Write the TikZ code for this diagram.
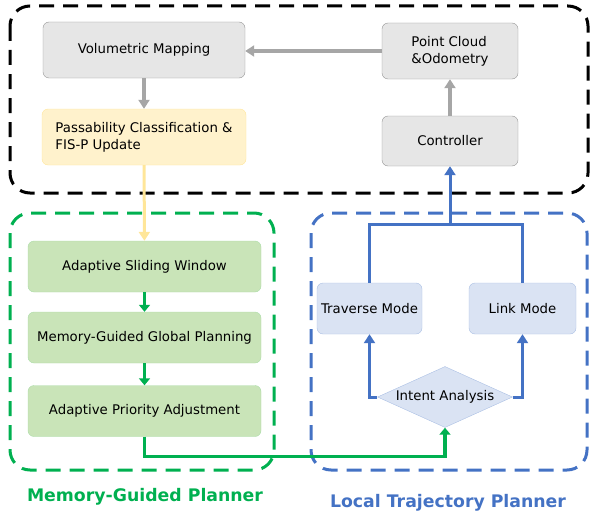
\documentclass[tikz,border=0pt]{standalone}
\usepackage{fontspec}
\setmainfont{DejaVu Sans}
\usetikzlibrary{shapes.geometric,arrows.meta}

\definecolor{boxgray}{HTML}{E6E6E6}
\definecolor{linegray}{HTML}{A6A6A6}
\definecolor{boxyellow}{HTML}{FFF2CC}
\definecolor{lineyellow}{HTML}{FFE699}
\definecolor{boxgreen}{HTML}{C9E4B8}
\definecolor{linegreen}{HTML}{00B050}
\definecolor{boxblue}{HTML}{DAE3F3}
\definecolor{lineblue}{HTML}{4472C4}

\tikzset{
	box/.style={rounded corners=6pt, align=center, inner sep=0pt,
		font=\fontsize{13.3}{17}\selectfont},
	graybox/.style={box, fill=boxgray, draw=linegray!90!black},
	yellowbox/.style={box, fill=boxyellow, draw=lineyellow},
	greenbox/.style={box, fill=boxgreen, draw=boxgreen!85!linegreen, minimum width=233, minimum height=51},
	bluebox/.style={box, fill=boxblue, draw=lineblue!45, minimum width=106, minimum height=51},
	frame/.style={line width=3pt, rounded corners=20pt, dash pattern=on 15pt off 9pt},
	grayarrow/.style={line width=3.5pt, draw=linegray, -{Triangle[length=9pt,width=11pt]}},
	yellowarrow/.style={line width=3pt, draw=lineyellow, -{Triangle[length=9pt,width=11pt]}},
	greenarrow/.style={line width=3.5pt, draw=linegreen, -{Triangle[length=7pt,width=11pt]}},
	blueline/.style={line width=3pt, draw=lineblue},
	bluearrow/.style={blueline, -{Triangle[length=9pt,width=11pt]}},
	grouplabel/.style={font=\fontsize{17.3}{20}\selectfont\bfseries}
}

\begin{document}
\begin{tikzpicture}[x=1pt, y=-1pt]
	
	\useasboundingbox (0,0) rectangle (594,519);
	
	% Rahmen der drei Bereiche
	\draw[frame, black] (10,6) rectangle (588,193);
	\draw[frame, linegreen] (10,213) rectangle (274,470);
	\draw[frame, lineblue] (311,213) rectangle (587,470);
	
	% Kartierung und Sensorik
	\node[graybox, minimum width=202, minimum height=56] (mapping) at (144,50) {Volumetric Mapping};
	\node[yellowbox, minimum width=204, minimum height=56, align=left] (passab) at (144,137) {Passability Classification \&\\FIS-P Update};
	\node[graybox, minimum width=136, minimum height=56, align=left] (cloud) at (450,51) {Point Cloud\\\&Odometry};
	\node[graybox, minimum width=136, minimum height=50] (control) at (450,141) {Controller};
	
	% Globaler Planer
	\node[greenbox] (window) at (144.5,266.5) {Adaptive Sliding Window};
	\node[greenbox] (global) at (144.5,337.5) {Memory-Guided Global Planning};
	\node[greenbox] (priority) at (144.5,411) {Adaptive Priority Adjustment};
	
	% Lokaler Planer
	\node[bluebox, minimum width=105] (traverse) at (369.5,308.5) {Traverse Mode};
	\node[bluebox, minimum width=107] (link) at (522.5,308.5) {Link Mode};
	\node[diamond, fill=boxblue, draw=lineblue!45, aspect=2.2, inner sep=0pt,
		minimum width=135, minimum height=61, font=\fontsize{13.3}{17}\selectfont] (intent) at (445,397) {Intent Analysis};
	\coordinate (merge) at (450,224);
	
	% Beschriftung der Bereiche
	\node[grouplabel, text=linegreen] (mglabel) at (145,497) {Memory-Guided Planner};
	\node[grouplabel, text=lineblue] (ltlabel) at (448,503) {Local Trajectory Planner};
	
	% Verbindungen
	\draw[grayarrow] (cloud.west) -- (cloud.west -| mapping.east);
	\draw[grayarrow] (mapping) -- (passab);
	\draw[grayarrow] (control) -- (cloud);
	\draw[yellowarrow] (passab) -- (window);
	\draw[greenarrow] (window) -- (global);
	\draw[greenarrow] (global) -- (priority);
	\draw[greenarrow] (priority.south) -- ++(0,20) -| (intent.south);
	%
	\draw[bluearrow] (intent.west) -| (traverse.south);
	\draw[bluearrow] (intent.east) -| (link.south);
	\draw[blueline] (traverse.north) |- (merge) -| (link.north);
	\draw[bluearrow] (merge) -- (control.south);
	
\end{tikzpicture}
\end{document}
